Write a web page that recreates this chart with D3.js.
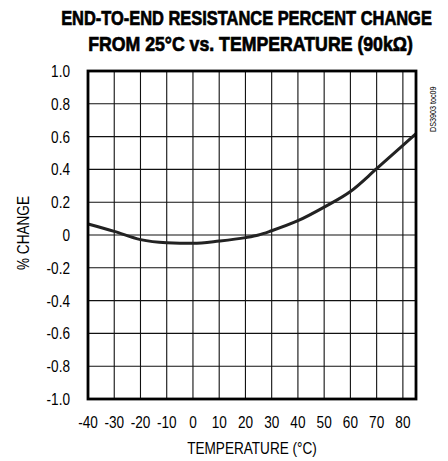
<!doctype html>
<html lang="en">
  <head>
    <meta charset="utf-8">
    <title>End-to-end resistance percent change</title>
    <style>
      body { margin: 0; background: #fff; }
      text { font-family: "Liberation Sans", Arial, sans-serif; fill: #000; }
    </style>
  </head>
  <body>
    <div class="chart"></div>

    <script src="https://d3js.org/d3.v7.min.js"></script>
    <script>
    // values
    var temps = [-40, -30, -20, -10, 0, 10, 20, 25, 30, 40, 50, 60, 70, 80, 85];
    var change = [0.067, 0.022, -0.028, -0.047, -0.051, -0.037, -0.016, 0, 0.026, 0.087, 0.17, 0.265, 0.404, 0.546, 0.618];
    var xTicks = [-40, -30, -20, -10, 0, 10, 20, 30, 40, 50, 60, 70, 80];
    var yTicks = [-1.0, -0.8, -0.6, -0.4, -0.2, 0, 0.2, 0.4, 0.6, 0.8, 1.0];
    var titleLines = ["END-TO-END RESISTANCE PERCENT CHANGE", "FROM 25\u00B0C vs. TEMPERATURE (90k\u03A9)"];

    var width = 448, height = 461;
    var margin = {top: 71, right: 32, bottom: 62, left: 88};
    var narrow = 0.8; // no condensed font installed, so squeeze horizontally

    var svg = d3.select(".chart")
        .append("svg")
        .attr("width", width)
        .attr("height", height);

    var x = d3.scaleLinear().domain([-40, 85]).range([margin.left, width - margin.right]);
    var y = d3.scaleLinear().domain([-1, 1]).range([height - margin.bottom, margin.top]);

    function label(px, py, str, size, anchor, rot) {
      return svg.append("text")
        .attr("transform", "translate(" + px + "," + py + ")" + (rot ? " rotate(" + rot + ")" : "") + " scale(" + narrow + ",1)")
        .attr("text-anchor", anchor)
        .attr("font-size", size)
        .text(str);
    }

    // title, squeezed to the width it has in the original
    var titleX = [246.5, 250.5], titleY = [25, 50.5], titleW = [371, 325];
    titleLines.forEach(function(s, i) {
      var t = svg.append("text")
        .attr("text-anchor", "middle")
        .attr("font-size", "20.5px")
        .attr("font-weight", "bold")
        .attr("stroke", "#000")
        .attr("stroke-width", 0.7)
        .text(s);
      var w = t.node().getComputedTextLength();
      t.attr("transform", "translate(" + titleX[i] + "," + titleY[i] + ") scale(" + (titleW[i] / w) + ",1)");
    });

    // grid
    svg.append("g")
      .selectAll("line")
      .data(xTicks.slice(1))
      .join("line")
      .attr("x1", d => x(d)).attr("x2", d => x(d))
      .attr("y1", y(1)).attr("y2", y(-1))
      .attr("stroke", "#111")
      .attr("stroke-width", 1.1);

    svg.append("g")
      .selectAll("line")
      .data(yTicks.slice(1, -1))
      .join("line")
      .attr("x1", x(-40)).attr("x2", x(85))
      .attr("y1", d => y(d)).attr("y2", d => y(d))
      .attr("stroke", "#111")
      .attr("stroke-width", 1.1);

    // curve
    var line = d3.line()
      .x(d => x(d[0]))
      .y(d => y(d[1]))
      .curve(d3.curveMonotoneX);

    svg.append("path")
      .datum(temps.map((t, i) => [t, change[i]]))
      .attr("d", line)
      .attr("fill", "none")
      .attr("stroke", "#222")
      .attr("stroke-width", 3);

    // frame
    svg.append("rect")
      .attr("x", x(-40)).attr("y", y(1))
      .attr("width", x(85) - x(-40))
      .attr("height", y(-1) - y(1))
      .attr("fill", "none")
      .attr("stroke", "#000")
      .attr("stroke-width", 2.8);

    // tick labels
    yTicks.forEach(d => label(70, y(d) + 6, d == 0 ? "0" : d.toFixed(1), "17px", "end"));
    xTicks.forEach(d => label(x(d), 428, d, "17px", "middle"));

    // axis titles
    label(x(22.5), 454, "TEMPERATURE (\u00B0C)", "17px", "middle");
    label(29, 233, "% CHANGE", "17px", "middle", -90);

    // part number
    label(436, 132, "DS3903 toc09", "9px", "start", -90).attr("fill", "#222");
    </script>
  </body>
</html>
